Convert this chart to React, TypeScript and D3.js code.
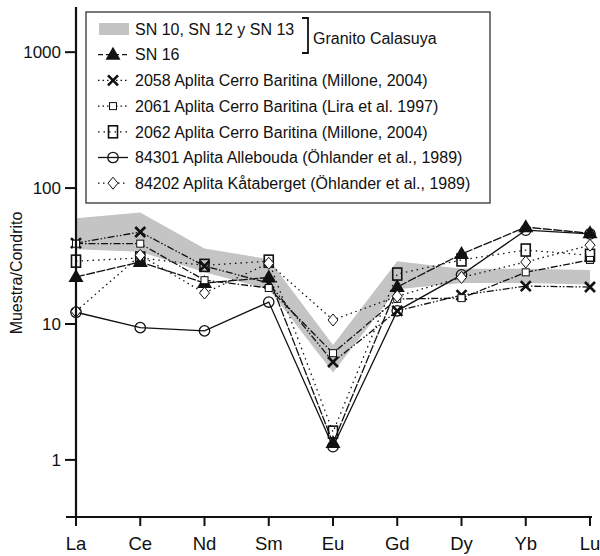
import * as d3 from 'd3';

const elements = ['La', 'Ce', 'Nd', 'Sm', 'Eu', 'Gd', 'Dy', 'Yb', 'Lu'];
const yTicks = [1, 10, 100, 1000];

// SN 10, SN 12 y SN 13 range (gray band)
const bandLow = [35.5, 34, 24, 18, 4.4, 18, 20, 20, 19.5];
const bandHigh = [60, 66, 36, 30, 7, 29, 25.5, 25.5, 25];

const sn16 = [22.2, 28.6, 20, 22, 1.33, 18.7, 32.7, 51.6, 46.5];
const s2058 = [39.4, 47.5, 26.7, 20, 5.25, 12.5, 16.3, 19, 18.7];
const s2061 = [39, 39, 21, 18.4, 6.1, 15.3, 15.5, 24, 29.6];
const s2062 = [29, 30.6, 27, 29, 1.6, 23.3, 29.6, 35, 32];
const s84301 = [12.2, 9.4, 8.9, 14.5, 1.25, 12.5, 23, 49, 46];
const s84202 = [12.4, 32, 16.9, 28, 10.7, 16, 22, 28.6, 38];

const series = [
  { name: 'SN 16', values: sn16, marker: 'triangle', dash: '9,1.5', legendDash: '5,3' },
  { name: '2058 Aplita Cerro Baritina (Millone, 2004)', values: s2058, marker: 'cross', dash: '7,2,1.5,2,1.5,2', legendDash: '1.5,3' },
  { name: '2061 Aplita Cerro Baritina (Lira et al. 1997)', values: s2061, marker: 'smallSquare', dash: '7,2,1.5,2', legendDash: '1.5,3' },
  { name: '2062 Aplita Cerro Baritina (Millone, 2004)', values: s2062, marker: 'bigSquare', dash: '1.5,4', legendDash: '1.5,4' },
  { name: '84301 Aplita Allebouda (Öhlander et al., 1989)', values: s84301, marker: 'circle', dash: null, legendDash: null },
  { name: '84202 Aplita Kåtaberget (Öhlander et al., 1989)', values: s84202, marker: 'diamond', dash: '1.5,3.5', legendDash: '1.5,3.5' },
];

const W = 600;
const H = 556;
const font = '"Liberation Sans", Arial, sans-serif';

function Marker({ type, x, y }: { type: string; x: number; y: number }) {
  if (type === 'triangle') {
    return <path d={`M${x},${y - 8}L${x + 7.5},${y + 5}L${x - 7.5},${y + 5}Z`} fill="#111" />;
  }
  if (type === 'cross') {
    return (
      <path d={`M${x - 5},${y - 5}L${x + 5},${y + 5}M${x + 5},${y - 5}L${x - 5},${y + 5}`} stroke="#111" strokeWidth={2.6} />
    );
  }
  if (type === 'smallSquare') {
    return <rect x={x - 3.5} y={y - 3.5} width={7} height={7} fill="white" stroke="#111" strokeWidth={1} />;
  }
  if (type === 'bigSquare') {
    return <rect x={x - 4.5} y={y - 6} width={9} height={12} fill="none" stroke="#111" strokeWidth={1.6} />;
  }
  if (type === 'circle') {
    return <circle cx={x} cy={y} r={5.2} fill="none" stroke="#111" strokeWidth={1.3} />;
  }
  return <path d={`M${x},${y - 6}L${x + 5},${y}L${x},${y + 6}L${x - 5},${y}Z`} fill="white" stroke="#111" strokeWidth={1} />;
}

export default function App() {
  const x = d3.scalePoint().domain(elements).range([76, 590]);
  const y = d3.scaleLog().domain([0.38, 2150]).range([517, 7]);

  const band = d3
    .area<number>()
    .x((_, i) => x(elements[i])!)
    .y0((_, i) => y(bandLow[i]))
    .y1((_, i) => y(bandHigh[i]));

  const line = d3
    .line<number>()
    .x((_, i) => x(elements[i])!)
    .y((d) => y(d));

  const legendY = (i: number) => 29 + i * 25.7;

  return (
    <svg width={W} height={H} style={{ position: 'absolute', left: 0, top: 0, background: 'white' }} fontFamily={font}>
      <path d={band(bandLow) ?? ''} fill="#c4c4c4" />

      {series.map((s) => (
        <path
          key={s.name}
          d={line(s.values) ?? ''}
          fill="none"
          stroke="#111"
          strokeWidth={1.3}
          strokeDasharray={s.dash ?? undefined}
        />
      ))}
      {series.map((s) =>
        s.values.map((v, i) => <Marker key={s.name + i} type={s.marker} x={x(elements[i])!} y={y(v)} />)
      )}

      {/* axes */}
      <line x1={76} x2={76} y1={7} y2={517} stroke="#111" strokeWidth={2.2} />
      <line x1={66} x2={592} y1={517} y2={517} stroke="#111" strokeWidth={2.2} />
      {yTicks.map((t) => (
        <g key={t}>
          <line x1={65} x2={76} y1={y(t)} y2={y(t)} stroke="#111" strokeWidth={2} />
          <text x={61} y={y(t)} dy="0.36em" textAnchor="end" fontSize={17} fill="#111">
            {t}
          </text>
        </g>
      ))}
      {elements.map((e) => (
        <g key={e}>
          <line x1={x(e)} x2={x(e)} y1={517} y2={526} stroke="#111" strokeWidth={2} />
          <text x={x(e)} y={550} textAnchor="middle" fontSize={18.5} fill="#111">
            {e}
          </text>
        </g>
      ))}
      <text transform="translate(22,273) rotate(-90)" textAnchor="middle" fontSize={16} fill="#111">
        Muestra/Condrito
      </text>

      {/* legend */}
      <rect x={86} y={12} width={404} height={191} fill="white" stroke="#333" strokeWidth={1.3} />
      <rect x={99} y={legendY(0) - 6} width={30} height={12} fill="#c4c4c4" />
      <text x={135} y={legendY(0)} dy="0.36em" fontSize={16} fill="#111">
        SN 10, SN 12 y SN 13
      </text>
      <path d="M302,18H308V53H302" fill="none" stroke="#111" strokeWidth={1.8} />
      <text x={313} y={38} dy="0.36em" fontSize={16} fill="#111">
        Granito Calasuya
      </text>
      {series.map((s, i) => {
        const ly = legendY(i + 1);
        return (
          <g key={s.name}>
            <line x1={98} x2={128} y1={ly} y2={ly} stroke="#111" strokeWidth={1.3} strokeDasharray={s.legendDash ?? undefined} />
            <Marker type={s.marker} x={113} y={ly} />
            <text x={135} y={ly} dy="0.36em" fontSize={16} fill="#111">
              {s.name}
            </text>
          </g>
        );
      })}
    </svg>
  );
}
